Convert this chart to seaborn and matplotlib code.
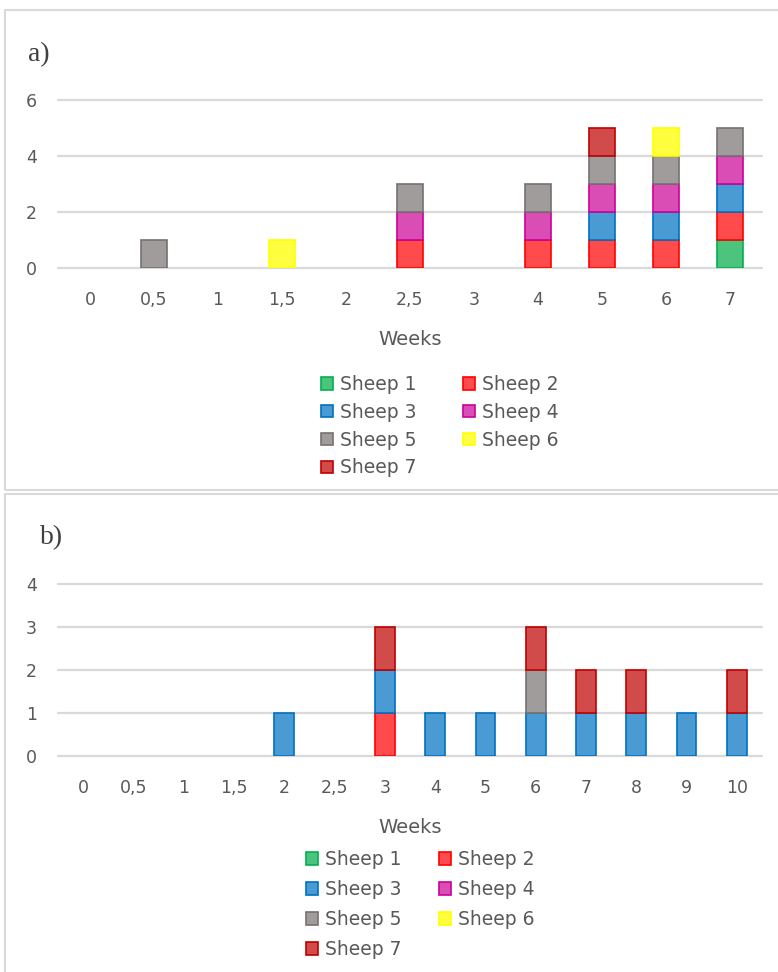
import numpy as np
import pandas as pd
import seaborn as sns
import matplotlib.pyplot as plt
from matplotlib.patches import Patch, Rectangle

# ---- data (sheep counts per week, stacked Sheep 1 at bottom -> Sheep 7 at top)
sheep = ["Sheep 1", "Sheep 2", "Sheep 3", "Sheep 4", "Sheep 5", "Sheep 6", "Sheep 7"]

weeks_a = ["0", "0,5", "1", "1,5", "2", "2,5", "3", "4", "5", "6", "7"]
sheep1_a = [0, 0, 0, 0, 0, 0, 0, 0, 0, 0, 1]
sheep2_a = [0, 0, 0, 0, 0, 1, 0, 1, 1, 1, 1]
sheep3_a = [0, 0, 0, 0, 0, 0, 0, 0, 1, 1, 1]
sheep4_a = [0, 0, 0, 0, 0, 1, 0, 1, 1, 1, 1]
sheep5_a = [0, 1, 0, 0, 0, 1, 0, 1, 1, 1, 1]
sheep6_a = [0, 0, 0, 1, 0, 0, 0, 0, 0, 1, 0]
sheep7_a = [0, 0, 0, 0, 0, 0, 0, 0, 1, 0, 0]

weeks_b = ["0", "0,5", "1", "1,5", "2", "2,5", "3", "4", "5", "6", "7", "8", "9", "10"]
sheep1_b = [0, 0, 0, 0, 0, 0, 0, 0, 0, 0, 0, 0, 0, 0]
sheep2_b = [0, 0, 0, 0, 0, 0, 1, 0, 0, 0, 0, 0, 0, 0]
sheep3_b = [0, 0, 0, 0, 1, 0, 1, 1, 1, 1, 1, 1, 1, 1]
sheep4_b = [0, 0, 0, 0, 0, 0, 0, 0, 0, 0, 0, 0, 0, 0]
sheep5_b = [0, 0, 0, 0, 0, 0, 0, 0, 0, 1, 0, 0, 0, 0]
sheep6_b = [0, 0, 0, 0, 0, 0, 0, 0, 0, 0, 0, 0, 0, 0]
sheep7_b = [0, 0, 0, 0, 0, 0, 1, 0, 0, 1, 1, 1, 0, 1]

fills = ["#4DC47E", "#FF4B4B", "#4A9AD4", "#D94DB5", "#A09C9C", "#FFFF40", "#D24B4B"]
edges = ["#00B050", "#FF0000", "#0070C0", "#CC0099", "#767171", "#FFFF00", "#C00000"]

sns.set_theme(style="white")
plt.rcParams["font.family"] = ["DejaVu Sans"]

W, H = 778, 972
fig = plt.figure(figsize=(W / 100, H / 100), dpi=100)
txt = "#595959"


def px_rect(x0, y0, x1, y1):
    # pixel box (top-left origin) -> figure fraction [l, b, w, h]
    return [x0 / W, 1 - y1 / H, (x1 - x0) / W, (y1 - y0) / H]


def stacked(ax, weeks, series, width):
    bottom = np.zeros(len(weeks))
    for name, vals, fc, ec in zip(sheep, series, fills, edges):
        df = pd.DataFrame({"week": weeks, "count": vals, "bottom": bottom})
        sub = df[df["count"] > 0]
        if len(sub):
            sns.barplot(data=sub, x="week", y="count", order=weeks, ax=ax,
                        color=fc, edgecolor=ec, linewidth=1.2, width=width,
                        saturation=1, errorbar=None, bottom=sub["bottom"].values,
                        zorder=3)
        bottom = bottom + np.array(vals)


def style(ax, n, ymax, label_y):
    ax.set_xlim(-0.5, n - 0.5)
    ax.set_ylim(0, ymax)
    ax.set_yticks(range(0, ymax + 1, 2 if ymax == 6 else 1))
    ax.yaxis.grid(True, color="#D9D9D9", lw=1.6)
    for gl in ax.get_ygridlines():
        gl.set_clip_on(False)
    ax.set_axisbelow(True)
    sns.despine(ax=ax, left=True, bottom=True)
    ax.tick_params(axis="x", length=0, pad=16.5, labelsize=12.5, labelcolor=txt)
    ax.tick_params(axis="y", length=0, pad=15, labelsize=12.5, labelcolor=txt)
    ax.set_ylabel("")
    ax.set_xlabel("Weeks", fontsize=14, color=txt)
    ax.xaxis.set_label_coords(0.5, label_y)


def legend(x, y, colspace, labelspace):
    order = [0, 2, 4, 6, 1, 3, 5]
    handles = [Patch(facecolor=fills[i], edgecolor=edges[i], lw=1.2) for i in order]
    labels = [sheep[i] for i in order]
    fig.legend(handles, labels, ncol=2, loc="upper left",
               bbox_to_anchor=(x / W, 1 - y / H), frameon=False,
               borderpad=0, borderaxespad=0, fontsize=13.5, labelcolor=txt,
               handlelength=0.65, handleheight=0.65, handletextpad=0.35,
               columnspacing=colspace, labelspacing=labelspace)


# panel borders
for r in [(5, 10, 780, 490), (5, 494, 780, 976)]:
    fig.add_artist(Rectangle((r[0] / W, 1 - r[3] / H), (r[2] - r[0]) / W,
                             (r[3] - r[1]) / H, transform=fig.transFigure,
                             fill=False, ec="#D9D9D9", lw=1.5))

# ---- panel a
ax1 = fig.add_axes(px_rect(58, 100, 762, 268))
stacked(ax1, weeks_a, [sheep1_a, sheep2_a, sheep3_a, sheep4_a, sheep5_a, sheep6_a, sheep7_a], 0.41)
style(ax1, len(weeks_a), 6, -0.37)
fig.text(28 / W, 1 - 55 / H, "a)", family="Liberation Serif", fontsize=20,
         color="#404040", va="center")
legend(321, 375, 2.5, 0.47)

# ---- panel b
ax2 = fig.add_axes(px_rect(58, 584, 762, 756))
stacked(ax2, weeks_b, [sheep1_b, sheep2_b, sheep3_b, sheep4_b, sheep5_b, sheep6_b, sheep7_b], 0.39)
style(ax2, len(weeks_b), 4, -0.36)
fig.text(40 / W, 1 - 538 / H, "b)", family="Liberation Serif", fontsize=20,
         color="#404040", va="center")
legend(306, 850, 2.0, 0.59)

fig.savefig("out.png", dpi=100)
